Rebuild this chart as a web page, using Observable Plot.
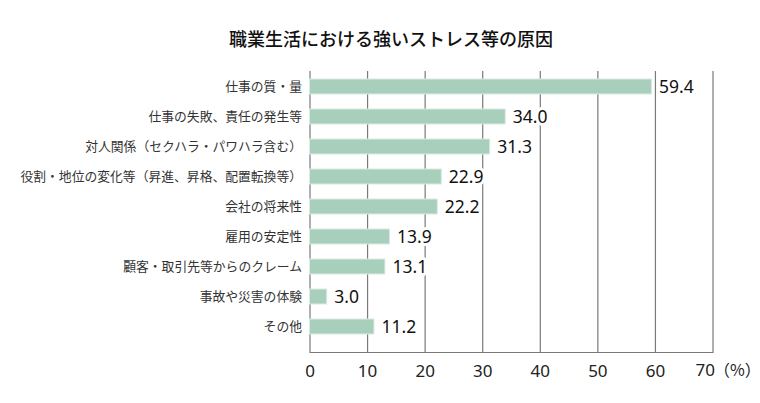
<!DOCTYPE html>
<html>
<head>
<meta charset="utf-8">
<script src="https://cdn.jsdelivr.net/npm/d3@7"></script>
<script src="https://cdn.jsdelivr.net/npm/@observablehq/plot@0.6"></script>
<style>
  body { margin: 0; background: #fff; }
  #wrap { position: relative; width: 760px; height: 403px; }
  #title { position: absolute; left: 0; top: 26px; width: 782px; text-align: center;
    font-family: "Noto Sans CJK JP", sans-serif; font-size: 18px; font-weight: 500; color: #111; line-height: 24px; }
  #chart { position: absolute; left: 0; top: 0; }
</style>
</head>
<body>
<div id="wrap">
  <div id="chart"></div>
  <div id="title">職業生活における強いストレス等の原因</div>
</div>
<script>
const categories = [
  "仕事の質・量",
  "仕事の失敗、責任の発生等",
  "対人関係（セクハラ・パワハラ含む）",
  "役割・地位の変化等（昇進、昇格、配置転換等）",
  "会社の将来性",
  "雇用の安定性",
  "顧客・取引先等からのクレーム",
  "事故や災害の体験",
  "その他"
];
const values = [59.4, 34.0, 31.3, 22.9, 22.2, 13.9, 13.1, 3.0, 11.2];
const xTicks = [0, 10, 20, 30, 40, 50, 60, 70];
const unitLabel = "（%）";

const data = categories.map((c, i) => ({category: c, value: values[i]}));
const lastTick = xTicks[xTicks.length - 1];

const plot = Plot.plot({
  width: 760,
  height: 403,
  marginTop: 71,
  marginBottom: 51,
  marginLeft: 309.5,
  marginRight: 47.5,
  style: {fontFamily: "'Noto Sans', sans-serif", background: "white"},
  x: {domain: [0, 70], ticks: xTicks},
  y: {domain: categories, range: [71.5, 341.5], paddingInner: 0.5, paddingOuter: 0.25},
  marks: [
    Plot.ruleX(xTicks, {x: d => d, stroke: "#7a7a7a", strokeWidth: 1.2}),
    Plot.barX(data, {y: "category", x: "value", fill: "#a8cfbc", stroke: "#dcebe3", strokeWidth: 1}),
    Plot.text(data, {y: "category", x: "value", text: d => d.value.toFixed(1), textAnchor: "start", dx: 7,
      fontSize: 17.5, fill: "#111", stroke: "white", strokeWidth: 6, paintOrder: "stroke"}),
    Plot.frame({anchor: "bottom", stroke: "#7a7a7a", strokeWidth: 1.2}),
    Plot.axisY({tickSize: 0, tickPadding: 8, fontSize: 12.8, label: null,
      fontFamily: "'Noto Sans CJK JP', sans-serif", fill: "#333"}),
    Plot.axisX(xTicks.filter(t => t !== lastTick), {tickSize: 0, tickPadding: 12, fontSize: 17, label: null, fill: "#222"}),
    Plot.text([lastTick], {x: d => d, frameAnchor: "bottom", lineAnchor: "middle", text: d => `${d}`, textAnchor: "end",
      dx: 2, dy: 18.5, fontSize: 17, fill: "#222"}),
    Plot.text([lastTick], {x: d => d, frameAnchor: "bottom", lineAnchor: "middle", text: () => unitLabel, textAnchor: "start",
      dx: 1, dy: 18.5, fontSize: 16, fill: "#222", fontFamily: "'Noto Sans CJK JP', sans-serif"})
  ]
});
document.getElementById("chart").appendChild(plot);
</script>
</body>
</html>
